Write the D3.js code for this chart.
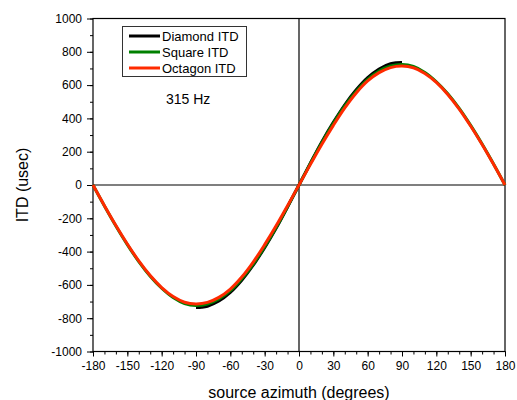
<!DOCTYPE html>
<html>
<head>
<meta charset="utf-8">
<script src="https://cdn.jsdelivr.net/npm/d3@7"></script>
<style>
  body { margin: 0; background: #fff; }
  svg { font-family: "Liberation Sans", Arial, sans-serif; }
</style>
</head>
<body>
<div id="chart"></div>
<script>
const width = 517;
const height = 400;

// azimuth samples (degrees)
const azimuth = [-180, -170, -160, -150, -140, -130, -120, -110, -100, -90, -80, -70, -60, -50, -40, -30, -20, -10,
  0, 10, 20, 30, 40, 50, 60, 70, 80, 90, 100, 110, 120, 130, 140, 150, 160, 170, 180];

const diamondAz = [-90, -85, -80, -70, -60, -50, -40, -30, -20, -10, 0, 10, 20, 30, 40, 50, 60, 70, 80, 85, 90];
const diamondItd = [-735, -734, -728, -697, -645, -572, -482, -376, -260, -132, 0,
  132, 260, 376, 482, 572, 645, 697, 728, 734, 735];

const squareItd = [0, -126, -246, -358, -460, -548, -620, -676, -712, -724, -715, -685, -635, -563, -475, -370, -255, -130,
  0, 130, 255, 370, 475, 563, 635, 685, 715, 724, 712, 676, 620, 548, 460, 358, 246, 126, 0];

const octagonItd = [0, -124, -243, -354, -456, -544, -616, -670, -704, -714, -705, -675, -625, -553, -463, -358, -245, -124,
  0, 124, 245, 358, 463, 553, 625, 675, 705, 714, 704, 670, 616, 544, 456, 354, 243, 124, 0];

const seriesNames = ["Diamond ITD", "Square ITD", "Octagon ITD"];
const seriesColors = ["#000000", "#008000", "#ff2a00"];

const xTicks = d3.range(-180, 181, 30);
const yTicks = d3.range(-1000, 1001, 200);

const marginTop = 18.5;
const marginRight = 12;
const marginBottom = 48.5;
const marginLeft = 93;

const x = d3.scaleLinear().domain([-180, 180]).range([marginLeft, width - marginRight]);
const y = d3.scaleLinear().domain([-1000, 1000]).range([height - marginBottom, marginTop]);

const svg = d3.select("#chart")
  .append("svg")
  .attr("width", width)
  .attr("height", height)
  .attr("viewBox", [0, 0, width, height]);

const plain = d => String(d);

// minor ticks
svg.append("g")
  .attr("transform", `translate(0,${y(-1000)})`)
  .call(d3.axisBottom(x).tickValues(d3.range(-180, 181, 10)).tickSize(3).tickFormat(""))
  .call(g => g.select(".domain").remove());
svg.append("g")
  .attr("transform", `translate(${x(-180)},0)`)
  .call(d3.axisLeft(y).tickValues(d3.range(-1000, 1001, 100)).tickSize(3).tickFormat(""))
  .call(g => g.select(".domain").remove());

// major ticks
svg.append("g")
  .attr("transform", `translate(0,${y(-1000)})`)
  .call(d3.axisBottom(x).tickValues(xTicks).tickSize(5).tickPadding(5).tickFormat(plain))
  .call(g => g.select(".domain").remove())
  .call(g => g.selectAll("text").attr("font-size", 12).attr("fill", "#000").attr("font-family", "Liberation Sans, Arial, sans-serif"));
svg.append("g")
  .attr("transform", `translate(${x(-180)},0)`)
  .call(d3.axisLeft(y).tickValues(yTicks).tickSize(6).tickPadding(5).tickFormat(plain))
  .call(g => g.select(".domain").remove())
  .call(g => g.selectAll("text").attr("font-size", 12).attr("fill", "#000").attr("font-family", "Liberation Sans, Arial, sans-serif"));

// frame
svg.append("rect")
  .attr("x", x(-180)).attr("y", y(1000))
  .attr("width", x(180) - x(-180)).attr("height", y(-1000) - y(1000))
  .attr("fill", "none").attr("stroke", "#000").attr("stroke-width", 1.2);

// zero lines
svg.append("line")
  .attr("x1", x(-180)).attr("x2", x(180)).attr("y1", y(0)).attr("y2", y(0))
  .attr("stroke", "#000").attr("stroke-width", 1.2);
svg.append("line")
  .attr("x1", x(0)).attr("x2", x(0)).attr("y1", y(1000)).attr("y2", y(-1000))
  .attr("stroke", "#000").attr("stroke-width", 1.2);

const line = d3.line()
  .x(d => x(d[0]))
  .y(d => y(d[1]))
  .curve(d3.curveCatmullRom);

const series = [
  d3.zip(diamondAz, diamondItd),
  d3.zip(azimuth, squareItd),
  d3.zip(azimuth, octagonItd)
];

svg.append("g")
  .selectAll("path")
  .data(series)
  .join("path")
    .attr("d", line)
    .attr("fill", "none")
    .attr("stroke", (d, i) => seriesColors[i])
    .attr("stroke-width", 3);

// legend
const legend = svg.append("g");
legend.append("rect")
  .attr("x", 122.5).attr("y", 26.5).attr("width", 124).attr("height", 50)
  .attr("fill", "#fff").attr("stroke", "#333").attr("stroke-width", 1);
seriesNames.forEach((name, i) => {
  const ly = 36 + i * 16;
  legend.append("line")
    .attr("x1", 129).attr("x2", 160).attr("y1", ly).attr("y2", ly)
    .attr("stroke", seriesColors[i]).attr("stroke-width", 3);
  legend.append("text")
    .attr("x", 162).attr("y", ly).attr("dy", "0.35em")
    .attr("font-size", 13).text(name);
});

svg.append("text")
  .attr("x", 166).attr("y", 99).attr("dy", "0.35em")
  .attr("font-size", 14).text("315 Hz");

// axis titles
svg.append("text")
  .attr("x", x(0)).attr("y", 392).attr("dy", "0.35em")
  .attr("text-anchor", "middle").attr("font-size", 16)
  .text("source azimuth (degrees)");
svg.append("text")
  .attr("transform", `translate(22,${y(0)}) rotate(-90)`)
  .attr("dy", "0.35em")
  .attr("text-anchor", "middle").attr("font-size", 16)
  .text("ITD (usec)");
</script>
</body>
</html>
